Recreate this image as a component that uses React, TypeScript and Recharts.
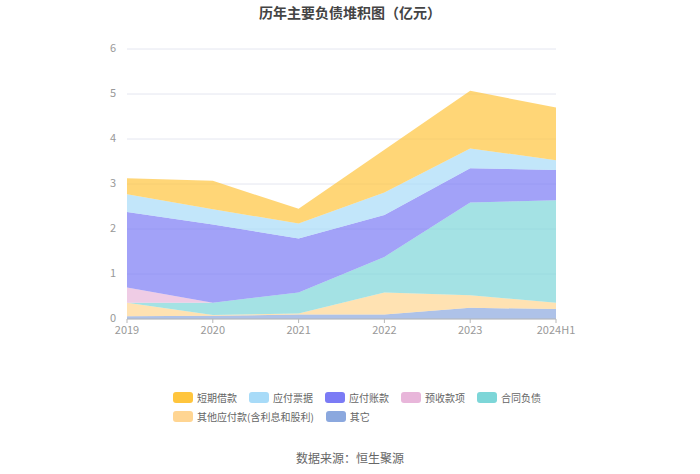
import { AreaChart, Area, XAxis, YAxis, CartesianGrid } from 'recharts';

const years = ['2019', '2020', '2021', '2022', '2023', '2024H1'];

// values in 亿元
const shortLoans = [0.36, 0.63, 0.33, 0.95, 1.28, 1.17];
const notesPayable = [0.39, 0.34, 0.33, 0.5, 0.44, 0.22];
const accountsPayable = [1.68, 1.74, 1.2, 0.93, 0.76, 0.67];
const advanceReceipts = [0.34, 0, 0, 0, 0, 0];
const contractLiabilities = [0, 0.27, 0.47, 0.79, 2.06, 2.28];
const otherPayables = [0.3, 0.02, 0.02, 0.49, 0.28, 0.14];
const others = [0.06, 0.07, 0.1, 0.1, 0.25, 0.22];

const yTicks = [0, 1, 2, 3, 4, 5, 6];

// bottom of stack first
const series = [
  { key: 'others', name: '其它', color: '#8BA8DE', values: others },
  { key: 'otherPayables', name: '其他应付款(含利息和股利)', color: '#FFD592', values: otherPayables },
  { key: 'contract', name: '合同负债', color: '#7DD6D8', values: contractLiabilities },
  { key: 'advance', name: '预收款项', color: '#E8B6DA', values: advanceReceipts },
  { key: 'accounts', name: '应付账款', color: '#7B7BF5', values: accountsPayable },
  { key: 'notes', name: '应付票据', color: '#A8DBF8', values: notesPayable },
  { key: 'short', name: '短期借款', color: '#FFC53D', values: shortLoans },
];

const legendOrder = ['short', 'notes', 'accounts', 'advance', 'contract', 'otherPayables', 'others'];

const chartData = years.map((year, i) => {
  const row: Record<string, any> = { year };
  series.forEach((s) => {
    row[s.key] = s.values[i];
  });
  return row;
});

const font = '"Noto Sans CJK SC", "Noto Sans", sans-serif';

export default function App() {
  return (
    <div style={{ position: 'absolute', left: 0, top: 0, width: 700, height: 474, background: '#fff', fontFamily: font }}>
      <div style={{ position: 'absolute', top: 2, width: 700, textAlign: 'center', fontSize: 14, fontWeight: 'bold', color: '#444' }}>
        历年主要负债堆积图（亿元）
      </div>
      <AreaChart width={700} height={474} data={chartData} margin={{ top: 49, right: 144, left: 0, bottom: 125 }}>
        <CartesianGrid vertical={false} stroke="#E4E6F0" />
        <XAxis
          dataKey="year"
          axisLine={{ stroke: '#B8B8B8' }}
          tickLine={{ stroke: '#B8B8B8' }}
          tickSize={4}
          tickMargin={3}
          tick={{ fill: '#999', fontSize: 11, fontFamily: font }}
          interval={0}
          height={30}
        />
        <YAxis
          domain={[0, 6]}
          ticks={yTicks}
          width={127}
          axisLine={false}
          tickLine={false}
          tick={{ fill: '#999', fontSize: 11, fontFamily: font, dy: -1, dx: -3 }}
        />
        {series.map((s) => (
          <Area
            key={s.key}
            type="linear"
            dataKey={s.key}
            name={s.name}
            stackId="1"
            stroke="none"
            fill={s.color}
            fillOpacity={0.7}
            isAnimationActive={false}
          />
        ))}
      </AreaChart>
      <div style={{ position: 'absolute', left: 173, top: 390, width: 380, display: 'flex', flexWrap: 'wrap', rowGap: 5, columnGap: 12 }}>
        {legendOrder.map((k) => {
          const s = series.find((x) => x.key === k)!;
          return (
            <div key={k} style={{ display: 'flex', alignItems: 'center', height: 14 }}>
              <span style={{ display: 'inline-block', width: 20, height: 11, borderRadius: 3, background: s.color, marginRight: 4 }} />
              <span style={{ fontSize: 10, color: '#666', whiteSpace: 'nowrap' }}>{s.name}</span>
            </div>
          );
        })}
      </div>
      <div style={{ position: 'absolute', top: 449, width: 700, textAlign: 'center', fontSize: 12, color: '#666' }}>
        数据来源：恒生聚源
      </div>
    </div>
  );
}
